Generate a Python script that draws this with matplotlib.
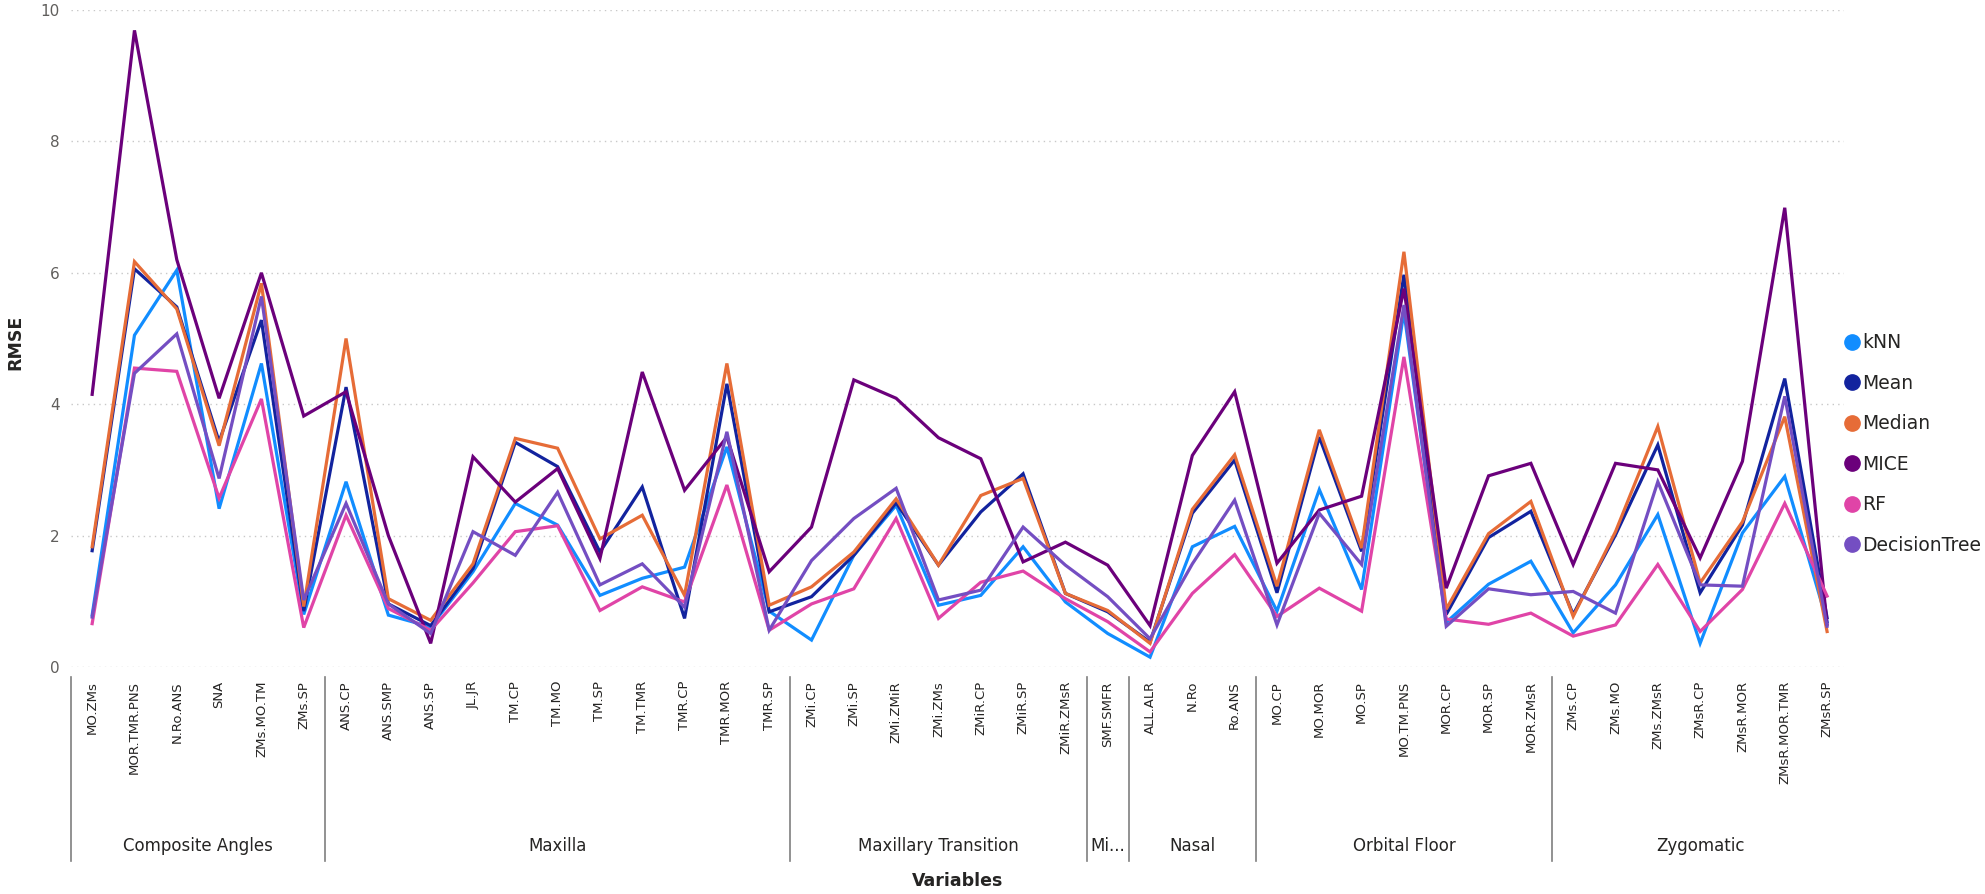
''' RMSE of each imputation method per variable '''

import matplotlib
matplotlib.use('Agg')
import matplotlib.pyplot as plt
from matplotlib.lines import Line2D


# variables and the group each one belongs to
variables = ['MO.ZMs', 'MOR.TMR.PNS', 'N.Ro.ANS', 'SNA', 'ZMs.MO.TM', 'ZMs.SP',
             'ANS.CP', 'ANS.SMP', 'ANS.SP', 'JL.JR', 'TM.CP', 'TM.MO', 'TM.SP',
             'TM.TMR', 'TMR.CP', 'TMR.MOR', 'TMR.SP',
             'ZMi.CP', 'ZMi.SP', 'ZMi.ZMiR', 'ZMi.ZMs', 'ZMiR.CP', 'ZMiR.SP',
             'ZMiR.ZMsR',
             'SMF.SMFR',
             'ALL.ALR', 'N.Ro', 'Ro.ANS',
             'MO.CP', 'MO.MOR', 'MO.SP', 'MO.TM.PNS', 'MOR.CP', 'MOR.SP',
             'MOR.ZMsR',
             'ZMs.CP', 'ZMs.MO', 'ZMs.ZMsR', 'ZMsR.CP', 'ZMsR.MOR',
             'ZMsR.MOR.TMR', 'ZMsR.SP']

groups = ['Composite Angles', 'Maxilla', 'Maxillary Transition', 'Mi...',
          'Nasal', 'Orbital Floor', 'Zygomatic']
group_sizes = [6, 11, 7, 1, 3, 7, 7]

# rmse values for each method
knn = [0.79, 5.05, 6.04, 2.41, 4.62, 0.80, 2.82, 0.79, 0.61, 1.45, 2.49,
       2.16, 1.09, 1.35, 1.52, 3.35, 0.85, 0.41, 1.70, 2.46, 0.94, 1.09,
       1.83, 0.99, 0.51, 0.15, 1.83, 2.14, 0.85, 2.70, 1.18, 5.41, 0.68,
       1.26, 1.61, 0.52, 1.25, 2.32, 0.36, 2.04, 2.90, 0.69]
mean = [1.77, 6.06, 5.48, 3.43, 5.28, 0.85, 4.26, 0.96, 0.63, 1.50, 3.42,
        3.05, 1.75, 2.74, 0.74, 4.31, 0.84, 1.07, 1.70, 2.50, 1.55, 2.36,
        2.94, 1.12, 0.84, 0.38, 2.34, 3.15, 1.13, 3.50, 1.76, 5.97, 0.80,
        1.97, 2.37, 0.80, 2.01, 3.38, 1.13, 2.16, 4.39, 0.75]
median = [1.83, 6.17, 5.45, 3.37, 5.84, 0.92, 5.00, 1.04, 0.71, 1.57, 3.48,
          3.33, 1.95, 2.31, 1.09, 4.62, 0.94, 1.22, 1.75, 2.56, 1.55, 2.61,
          2.87, 1.12, 0.86, 0.36, 2.40, 3.23, 1.23, 3.61, 1.81, 6.32, 0.88,
          2.03, 2.52, 0.77, 2.06, 3.66, 1.28, 2.21, 3.81, 0.54]
mice = [4.15, 9.69, 6.20, 4.09, 6.00, 3.82, 4.19, 2.00, 0.36, 3.20, 2.51,
        3.02, 1.65, 4.49, 2.69, 3.50, 1.45, 2.13, 4.37, 4.09, 3.49, 3.17,
        1.60, 1.90, 1.55, 0.63, 3.22, 4.19, 1.58, 2.39, 2.60, 5.76, 1.20,
        2.91, 3.10, 1.56, 3.10, 3.00, 1.66, 3.13, 6.99, 0.65]
rf = [0.66, 4.55, 4.50, 2.57, 4.08, 0.60, 2.31, 0.89, 0.56, 1.28, 2.06,
      2.15, 0.86, 1.22, 0.99, 2.77, 0.56, 0.96, 1.19, 2.26, 0.74, 1.29,
      1.46, 1.04, 0.69, 0.23, 1.12, 1.71, 0.77, 1.20, 0.85, 4.72, 0.73,
      0.65, 0.82, 0.47, 0.64, 1.56, 0.54, 1.18, 2.49, 1.08]
dtree = [0.76, 4.47, 5.07, 2.87, 5.64, 1.02, 2.49, 0.96, 0.51, 2.06, 1.70,
         2.66, 1.25, 1.57, 0.91, 3.58, 0.56, 1.62, 2.26, 2.72, 1.02, 1.17,
         2.13, 1.55, 1.07, 0.43, 1.57, 2.54, 0.64, 2.34, 1.56, 5.51, 0.62,
         1.19, 1.10, 1.15, 0.82, 2.82, 1.25, 1.23, 4.12, 0.62]

methods = ['kNN', 'Mean', 'Median', 'MICE', 'RF', 'DecisionTree']
colors = ['#118DFF', '#12239E', '#E66C37', '#6B007B', '#E044A7', '#744EC2']
series = [knn, mean, median, mice, rf, dtree]


# figure and plot area
fig = plt.figure(figsize=(19.85, 8.94), dpi=100)
ax = fig.add_axes([71 / 1985, 1 - 667 / 894, (1844 - 71) / 1985, 657 / 894])

pos = list(range(len(variables)))
for vals, name, col in zip(series, methods, colors):
    ax.plot(pos, vals, color=col, linewidth=2.3, label=name,
            solid_joinstyle='miter', clip_on=False)

ax.set_xlim(-0.5, len(variables) - 0.6)
ax.set_ylim(0, 10)
ax.set_yticks([0, 2, 4, 6, 8, 10])
ax.grid(axis='y', linestyle=(0, (1, 3)), color='#C8C8C8', linewidth=1.0)
ax.set_axisbelow(True)
for s in ax.spines.values():
    s.set_visible(False)
ax.tick_params(axis='y', length=0, labelsize=11, labelcolor='#605E5C', pad=8)

# variable labels, rotated
ax.set_xticks(pos)
ax.set_xticklabels(variables, rotation=90, fontsize=9.5, color='#252423')
ax.tick_params(axis='x', length=0, pad=10)

# group separators and group names
trans = ax.get_xaxis_transform()
edges = [-0.5]
for n in group_sizes:
    edges.append(edges[-1] + n)
for e in edges[:-1]:
    ax.plot([e, e], [-0.015, -0.295], transform=trans, color='#7F7F7F',
            linewidth=1.2, clip_on=False)
for g, lo, hi in zip(groups, edges[:-1], edges[1:]):
    ax.text((lo + hi) / 2, -0.272, g, transform=trans, ha='center',
            va='center', fontsize=12, color='#252423')

# axis titles
ax.text(0.5, -0.325, 'Variables', transform=ax.transAxes, ha='center',
        va='center', fontsize=12.5, fontweight='bold', color='#252423')
fig.text(15 / 1985, 1 - 342 / 894, 'RMSE', rotation=90, ha='center',
         va='center', fontsize=12.5, fontweight='bold', color='#252423')

# legend with round markers
handles = [Line2D([], [], marker='o', linestyle='none', markersize=11,
                  color=c) for c in colors]
fig.legend(handles, methods, loc='center left',
           bbox_to_anchor=(1845 / 1985, 1 - 444 / 894), frameon=False,
           fontsize=13.5, handlelength=0.7, handletextpad=0.2,
           labelspacing=1.15, borderpad=0, borderaxespad=0,
           labelcolor='#252423')

fig.savefig('out.png', dpi=100)
